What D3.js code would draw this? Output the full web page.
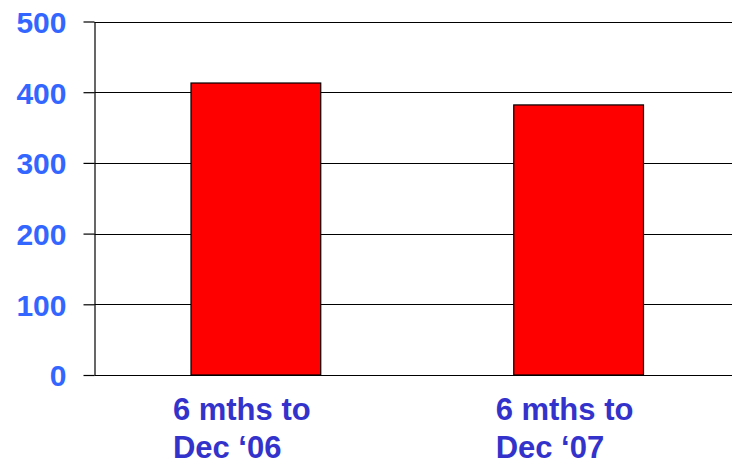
<!DOCTYPE html>
<html>
<head>
<meta charset="utf-8">
<script src="https://cdn.jsdelivr.net/npm/d3@7"></script>
<style>
  html, body { margin: 0; padding: 0; background: #fff; }
  svg { display: block; }
</style>
</head>
<body>
<svg id="chart" width="732" height="464"></svg>
<script>
// Half-year periods and their totals
const categories = ["6 mths to\nDec \u201806", "6 mths to\nDec \u201807"];
const values = [413, 382];
const yTicks = [0, 100, 200, 300, 400, 500];

const svg = d3.select("#chart");
const plotLeft = 94.5, plotRight = 740, plotTop = 21.5, plotBottom = 375;

const x = d3.scaleBand()
  .domain(categories)
  .range([plotLeft, plotRight])
  .paddingInner(0.598)
  .paddingOuter(0.299);

const y = d3.scaleLinear().domain([0, 500]).range([plotBottom, plotTop]);

// Horizontal gridlines across the plot
svg.append("g")
  .selectAll("line")
  .data(yTicks)
  .join("line")
  .attr("x1", plotLeft)
  .attr("x2", 732)
  .attr("y1", d => Math.round(y(d)) + 0.5)
  .attr("y2", d => Math.round(y(d)) + 0.5)
  .attr("stroke", "#000")
  .attr("stroke-width", 1.2);

// Value axis with outward ticks
const yAxis = svg.append("g")
  .attr("transform", `translate(${plotLeft},0)`)
  .call(d3.axisLeft(y).tickValues(yTicks).tickSize(11).tickPadding(17).tickSizeOuter(0));
yAxis.select(".domain").attr("stroke", "#000").attr("stroke-width", 1.2);
yAxis.selectAll(".tick line").attr("stroke", "#000").attr("stroke-width", 1.2);
yAxis.selectAll(".tick text")
  .attr("fill", "#3366FF")
  .attr("font-family", "Liberation Sans, Arial, sans-serif")
  .attr("font-weight", "bold")
  .attr("font-size", "30px")
  .attr("dy", "0.36em");

// Bars
svg.append("g")
  .selectAll("rect")
  .data(values)
  .join("rect")
  .attr("x", (d, i) => x(categories[i]))
  .attr("width", x.bandwidth())
  .attr("y", d => y(d))
  .attr("height", d => y(0) - y(d))
  .attr("fill", "#FF0000")
  .attr("stroke", "#000")
  .attr("stroke-width", 1.2);

// Category labels, two lines, left-aligned under each bar
const labels = svg.append("g")
  .selectAll("text")
  .data(categories)
  .join("text")
  .attr("x", d => x(d) + x.bandwidth() / 2 - 83)
  .attr("y", 420)
  .attr("fill", "#3333CC")
  .attr("font-family", "Liberation Sans, Arial, sans-serif")
  .attr("font-weight", "bold")
  .attr("font-size", "31px");
labels.each(function(d) {
  const t = d3.select(this);
  const x0 = t.attr("x");
  d.split("\n").forEach((line, i) => {
    t.append("tspan").attr("x", x0).attr("dy", i === 0 ? 0 : 38).text(line);
  });
});
</script>
</body>
</html>
